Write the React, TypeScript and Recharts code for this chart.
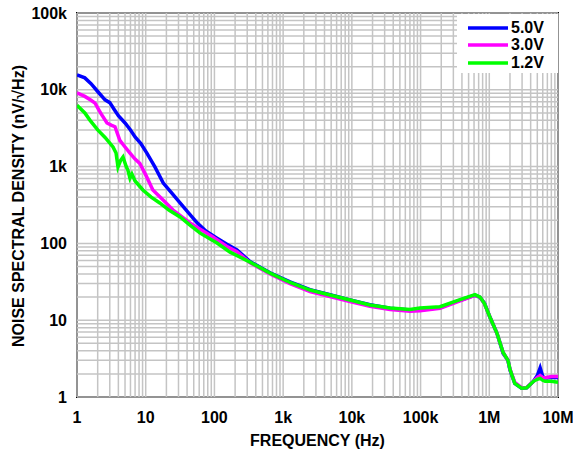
import { LineChart, Line, XAxis, YAxis, ReferenceLine, ReferenceArea, Legend, Label } from "recharts";

const FREQ_TICKS = [1, 10, 100, 1e3, 1e4, 1e5, 1e6, 1e7];
const FREQ_LABELS = ["1", "10", "100", "1k", "10k", "100k", "1M", "10M"];
const NSD_TICKS = [1, 10, 100, 1e3, 1e4, 1e5];
const NSD_LABELS = ["1", "10", "100", "1k", "10k", "100k"];

// 5.0V
const freq5V = [1, 1.3, 1.6, 2, 2.56, 3, 3.5, 4, 5, 6, 7, 8.5, 10.4, 13.6, 18, 24, 31.6, 42, 56, 75, 109, 150, 213, 330, 645, 1260, 2460, 4800, 9400, 18300, 36000, 70000, 98000, 192000, 376000, 620000, 735000, 850000, 1.02e6, 1.29e6, 1.59e6, 1.87e6, 2.0e6, 2.35e6, 2.95e6, 3.5e6, 4.4e6, 5.0e6, 5.5e6, 6.0e6, 6.5e6, 8e6, 1e7];
const nsd5V = [15600, 14300, 12000, 9500, 7400, 6800, 5500, 4600, 3700, 3000, 2430, 2000, 1500, 990, 611, 450, 336, 250, 185, 145, 117, 98, 82, 58, 41.5, 31.5, 25, 21.5, 18.4, 15.9, 14.3, 13.6, 13.6, 14.6, 18.2, 21.2, 19.8, 16.7, 11, 6.8, 3.7, 3.0, 2.25, 1.5, 1.3, 1.32, 1.6, 1.9, 2.4, 1.85, 1.77, 1.8, 1.8];

// 3.0V
const freq3V = [1, 1.3, 1.6, 1.83, 2.2, 2.73, 3.2, 3.57, 4.2, 5, 5.9, 7, 8.2, 10, 12.7, 17.9, 25, 44, 95, 150, 213, 330, 645, 1260, 2460, 4800, 9400, 18300, 36000, 70000, 98000, 192000, 376000, 620000, 735000, 850000, 1.02e6, 1.29e6, 1.59e6, 1.87e6, 2.0e6, 2.35e6, 2.95e6, 3.5e6, 4.4e6, 5.0e6, 5.5e6, 6.0e6, 6.5e6, 8e6, 1e7];
const nsd3V = [9100, 8200, 7300, 6700, 5000, 3700, 3450, 3300, 2200, 1800, 1500, 1250, 1100, 780, 496, 367, 272, 185, 121, 92, 78, 56, 40, 30, 23.5, 20.3, 17.5, 15.2, 13.8, 13.1, 13.3, 14.3, 17.8, 21, 19.8, 16.5, 11, 6.8, 3.8, 3.0, 2.3, 1.55, 1.32, 1.33, 1.6, 1.8, 1.9, 1.8, 1.78, 1.85, 1.85];

// 1.2V
const freq1V2 = [1, 1.3, 1.55, 2, 2.56, 3.34, 3.7, 3.95, 4.3, 4.67, 5.2, 5.5, 5.9, 6.3, 7, 9.1, 12, 16, 22, 31.6, 45, 62, 109, 169, 330, 645, 1260, 2460, 4800, 9400, 18300, 36000, 70000, 98000, 192000, 376000, 620000, 735000, 850000, 1.02e6, 1.29e6, 1.59e6, 1.87e6, 2.0e6, 2.35e6, 2.95e6, 3.5e6, 4.4e6, 5.0e6, 5.5e6, 6.0e6, 6.5e6, 8e6, 1e7];
const nsd1V2 = [6300, 5000, 4000, 3000, 2400, 1800, 1500, 990, 1200, 1330, 1000, 900, 707, 800, 650, 496, 400, 336, 270, 221, 170, 136, 101, 77, 57, 41, 31, 24.7, 21.3, 18.3, 15.8, 14.4, 13.8, 14.4, 15, 18.5, 21.5, 20, 16.5, 11, 6.8, 3.8, 3.0, 2.3, 1.5, 1.3, 1.32, 1.6, 1.7, 1.75, 1.65, 1.6, 1.6, 1.55];

const toRows = (f: number[], v: number[]) => f.map((x, i) => ({ f: x, v: v[i] }));

const SERIES = [
  { name: "5.0V", color: "#0000ff", data: toRows(freq5V, nsd5V) },
  { name: "3.0V", color: "#ff00ff", data: toRows(freq3V, nsd3V) },
  { name: "1.2V", color: "#00ff00", data: toRows(freq1V2, nsd1V2) },
];

const minors = (ticks: number[]) => {
  const out: number[] = [];
  ticks.slice(0, -1).forEach((d) => {
    for (let m = 1; m <= 9; m++) out.push(d * m);
  });
  return out.concat(ticks[ticks.length - 1]);
};
const X_GRID = minors(FREQ_TICKS);
const Y_GRID = minors(NSD_TICKS);

const FONT = '"Liberation Sans", Arial, sans-serif';
const tickStyle = { fontSize: 16, fontWeight: 700, fill: "#000", fontFamily: FONT };

const LegendBox = () => (
  <div style={{ background: "#fff", width: 101, height: 59, paddingTop: 5, boxSizing: "border-box", fontFamily: FONT }}>
    {SERIES.map((s) => (
      <div key={s.name} style={{ display: "flex", alignItems: "center", height: 17.5 }}>
        <svg width={54} height={6}>
          <line x1={11} x2={51} y1={3} y2={3} stroke={s.color} strokeWidth={3.5} />
        </svg>
        <span style={{ fontSize: 16, fontWeight: 700, color: "#000" }}>{s.name}</span>
      </div>
    ))}
  </div>
);

export default function App() {
  return (
    <div style={{ position: "absolute", left: 0, top: 0, background: "#fff" }}>
      <LineChart width={573} height={452} margin={{ top: 13, right: 15, bottom: 0, left: 0 }}>
        <XAxis
          dataKey="f"
          type="number"
          scale="log"
          domain={[1, 1e7]}
          ticks={FREQ_TICKS}
          tickFormatter={(v) => FREQ_LABELS[FREQ_TICKS.indexOf(v)]}
          allowDataOverflow
          height={55}
          tickLine={false}
          axisLine={false}
          tickMargin={9}
          tick={tickStyle}
          interval={0}
        >
          <Label
            content={() => (
              <text x={317.5} y={446} textAnchor="middle" style={tickStyle}>
                FREQUENCY (Hz)
              </text>
            )}
          />
        </XAxis>
        <YAxis
          type="number"
          scale="log"
          domain={[1, 1e5]}
          ticks={NSD_TICKS}
          tickFormatter={(v) => NSD_LABELS[NSD_TICKS.indexOf(v)]}
          allowDataOverflow
          width={77}
          tickLine={false}
          axisLine={false}
          tickMargin={4}
          tick={tickStyle}
          interval={0}
        >
          <Label
            content={() => (
              <text x={24} y={206} transform="rotate(-90 24 206)" textAnchor="middle" style={tickStyle}>
                NOISE SPECTRAL DENSITY (nV/√Hz)
              </text>
            )}
          />
        </YAxis>
        {X_GRID.map((x) => (
          <ReferenceLine key={"x" + x} x={x} stroke="#c4c4c4" strokeWidth={1.5} />
        ))}
        {Y_GRID.map((y) => (
          <ReferenceLine key={"y" + y} y={y} stroke="#c4c4c4" strokeWidth={1.5} />
        ))}
        {SERIES.map((s) => (
          <Line
            key={s.name}
            data={s.data}
            dataKey="v"
            name={s.name}
            stroke={s.color}
            strokeWidth={3.5}
            dot={false}
            type="linear"
            isAnimationActive={false}
          />
        ))}
        <ReferenceArea x1={1} x2={1e7} y1={1} y2={1e5} fill="none" stroke="#000" strokeWidth={2} />
        <Legend
          layout="vertical"
          align="center"
          verticalAlign="middle"
          content={() => <LegendBox />}
          wrapperStyle={{ position: "absolute", top: 14, left: 457, width: 101, height: 59 }}
        />
      </LineChart>
    </div>
  );
}
